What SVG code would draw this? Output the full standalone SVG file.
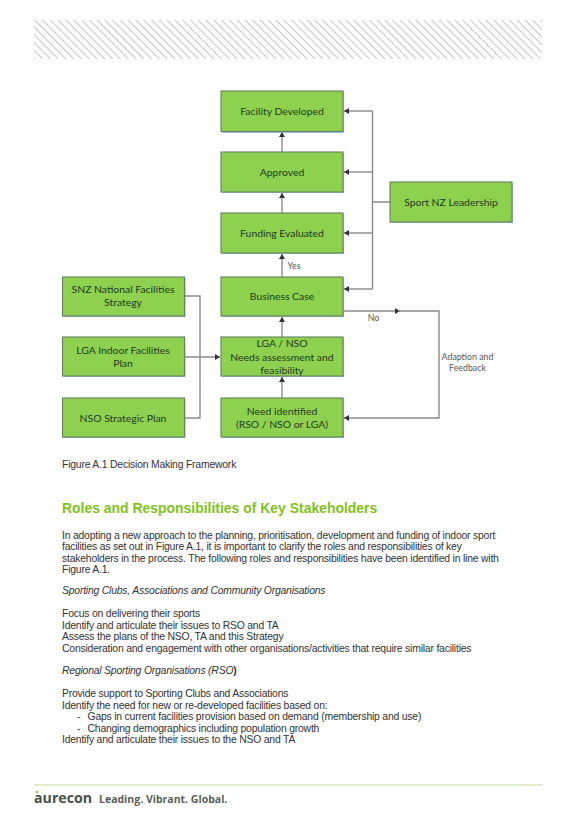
<svg xmlns="http://www.w3.org/2000/svg" width="576" height="822" viewBox="0 0 576 822">
<style>
.n{fill:#8dd14f;stroke:#66805f;stroke-width:1.1}
.s{fill:#7fb2d8;opacity:.8}
.nt{font-family:Lato,"Open Sans",sans-serif;font-size:10.400px;fill:#1f3a1f;text-anchor:middle}
.c{fill:none;stroke:#8a8a8a;stroke-width:1.4}
.l{font-family:Lato,"Open Sans",sans-serif;font-size:8.800px;fill:#555;text-anchor:middle}
.b{font-family:"Liberation Sans",Arial,sans-serif;font-size:10.400px;letter-spacing:-.2px;fill:#333}
</style>
<defs>
<marker id="a" markerUnits="userSpaceOnUse" markerWidth="6" markerHeight="6" refX="5" refY="3" orient="auto"><path d="M0 0L5 3L0 6z" fill="#333"/></marker>
<pattern id="h" width="5.500" height="5.500" patternUnits="userSpaceOnUse" patternTransform="rotate(45)"><rect width="5.500" height="5.500" fill="#fff"/><rect width="5.500" height="1" fill="#c4c4c4"/></pattern>
</defs>
<rect width="576" height="822" fill="#fff"/>
<g id="hatch"><rect x="34" y="20" width="508" height="39" fill="url(#h)"/></g>
<g id="connectors">
<path class="c" d="M282 152V132" marker-end="url(#a)"/>
<path class="c" d="M282 213V193" marker-end="url(#a)"/>
<path class="c" d="M282 277V254" marker-end="url(#a)"/>
<path class="c" d="M282 337V317" marker-end="url(#a)"/>
<path class="c" d="M282 398V377" marker-end="url(#a)"/>
<path class="c" d="M372.500 111H344" marker-end="url(#a)"/>
<path class="c" d="M372.500 172H344" marker-end="url(#a)"/>
<path class="c" d="M372.500 233H344" marker-end="url(#a)"/>
<path class="c" d="M372.500 289H344" marker-end="url(#a)"/>
<path class="c" d="M372.500 111V289M390 202H372.500"/>
<path class="c" d="M343 311H400" marker-end="url(#a)"/>
<path class="c" d="M398 311H439V418H344" marker-end="url(#a)"/>
<path class="c" d="M185 296H200V418H185"/>
<path class="c" d="M185 357H220" marker-end="url(#a)"/>
</g>
<g id="facility-developed"><rect class="s" x="222" y="92" width="122" height="41"/><rect class="n" x="221" y="91" width="122" height="40.500"/><text class="nt" x="282" y="114.500">Facility Developed</text></g>
<g id="approved"><rect class="s" x="222" y="153" width="122" height="40"/><rect class="n" x="221" y="152" width="122" height="40"/><text class="nt" x="282" y="175.500">Approved</text></g>
<g id="funding-evaluated"><rect class="s" x="222" y="214" width="122" height="40"/><rect class="n" x="221" y="213" width="122" height="40"/><text class="nt" x="282" y="236.500">Funding Evaluated</text></g>
<g id="business-case"><rect class="s" x="222" y="278" width="122" height="39"/><rect class="n" x="221" y="277" width="122" height="39"/><text class="nt" x="282" y="299.500">Business Case</text></g>
<g id="lga-nso"><rect class="s" x="222" y="338" width="122" height="39"/><rect class="n" x="221" y="337" width="122" height="39"/><text class="nt" x="282" y="347">LGA / NSO</text><text class="nt" x="282" y="360.500">Needs assessment and</text><text class="nt" x="282" y="374">feasibility</text></g>
<g id="need-identified"><rect class="s" x="222" y="399" width="122" height="39"/><rect class="n" x="221" y="398" width="122" height="39"/><text class="nt" x="282" y="414.500">Need identified</text><text class="nt" x="282" y="428">(RSO / NSO or LGA)</text></g>
<g id="snz-strategy"><rect class="s" x="63.500" y="278" width="122" height="39"/><rect class="n" x="62.500" y="277" width="122" height="39"/><text class="nt" x="123" y="292.500">SNZ National Facilities</text><text class="nt" x="123" y="306">Strategy</text></g>
<g id="lga-plan"><rect class="s" x="63.500" y="338" width="122" height="39"/><rect class="n" x="62.500" y="337" width="122" height="39"/><text class="nt" x="123" y="353.500">LGA Indoor Facilities</text><text class="nt" x="123" y="367">Plan</text></g>
<g id="nso-plan"><rect class="s" x="63.500" y="399" width="122" height="39"/><rect class="n" x="62.500" y="398" width="122" height="39"/><text class="nt" x="123" y="421.500">NSO Strategic Plan</text></g>
<g id="sport-nz"><rect class="s" x="391" y="183" width="122" height="40"/><rect class="n" x="390" y="182" width="122" height="40"/><text class="nt" x="451" y="205.500">Sport NZ Leadership</text></g>
<g id="labels">
<text class="l" x="294" y="269">Yes</text>
<text class="l" x="373.500" y="321">No</text>
<text class="l" x="467.500" y="360">Adaption and</text>
<text class="l" x="467.500" y="371">Feedback</text>
</g>
<text class="b" x="62" y="468">Figure A.1 Decision Making Framework</text>
<text x="62" y="513" font-family="Liberation Sans,Arial,sans-serif" font-size="13.950px" font-weight="700" fill="#7fc31c">Roles and Responsibilities of Key Stakeholders</text>
<g>
<text class="b" x="62" y="538.500">In adopting a new approach to the planning, prioritisation, development and funding of indoor sport</text>
<text class="b" x="62" y="550">facilities as set out in Figure A.1, it is important to clarify the roles and responsibilities of key</text>
<text class="b" x="62" y="561.500">stakeholders in the process. The following roles and responsibilities have been identified in line with</text>
<text class="b" x="62" y="573">Figure A.1.</text>
<text class="b" x="62" y="594" font-style="italic">Sporting Clubs, Associations and Community Organisations</text>
<text class="b" x="62" y="617">Focus on delivering their sports</text>
<text class="b" x="62" y="628.500">Identify and articulate their issues to RSO and TA</text>
<text class="b" x="62" y="640">Assess the plans of the NSO, TA and this Strategy</text>
<text class="b" x="62" y="651.500">Consideration and engagement with other organisations/activities that require similar facilities</text>
<text class="b" x="62" y="674"><tspan font-style="italic">Regional Sporting Organisations (RSO</tspan><tspan font-weight="700">)</tspan></text>
<text class="b" x="62" y="697">Provide support to Sporting Clubs and Associations</text>
<text class="b" x="62" y="708.500">Identify the need for new or re-developed facilities based on:</text>
<text class="b" x="77" y="720">-</text><text class="b" x="87.500" y="720">Gaps in current facilities provision based on demand (membership and use)</text>
<text class="b" x="77" y="731.500">-</text><text class="b" x="87.500" y="731.500">Changing demographics including population growth</text>
<text class="b" x="62" y="743">Identify and articulate their issues to the NSO and TA</text>
</g>
<g id="footer">
<line x1="34" y1="785" x2="542" y2="785" stroke="#c5dd95" stroke-width="1"/>
<circle cx="37" cy="792" r="1.300" fill="#8cc63f"/>
<text x="34" y="803" font-family="Open Sans,sans-serif" font-size="14.200px" font-weight="700" fill="#4a4f45">aurecon</text>
<text x="99" y="803" font-family="Open Sans,sans-serif" font-size="10.500px" font-weight="700" fill="#5a5f55">Leading. Vibrant. Global.</text>
</g>
</svg>
